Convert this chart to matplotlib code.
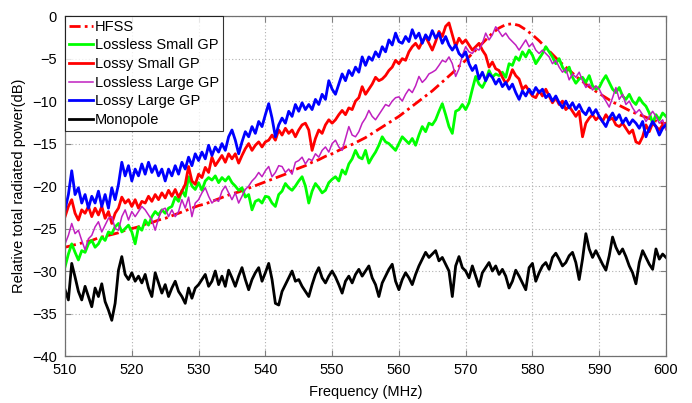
import numpy as np
import matplotlib
matplotlib.use("Agg")
import matplotlib.pyplot as plt

plt.rcParams['font.family'] = ['Liberation Sans', 'DejaVu Sans']

# measured traces sampled every 0.5 MHz from 510 to 600 MHz
freq = np.arange(510, 600.25, 0.5)

lossy_large = [
    -22.8, -21.0, -18.2, -21.0, -20.2, -22.0, -21.0, -22.6, -21.2, -22.0,
    -20.6, -22.4, -21.0, -22.6, -20.2, -21.6, -19.8, -17.2, -18.8, -17.6,
    -19.4, -18.0, -18.8, -17.4, -18.6, -17.2, -18.4, -17.6, -18.8, -18.0,
    -19.4, -18.0, -18.8, -17.6, -18.6, -17.2, -18.0, -16.6, -17.6, -16.2,
    -17.0, -16.0, -16.8, -15.2, -16.4, -15.4, -16.0, -15.0, -15.8, -14.2,
    -13.4, -14.6, -16.2, -14.8, -13.6, -14.2, -13.0, -13.8, -12.4, -13.0,
    -11.6, -10.3, -12.0, -14.2, -12.8, -12.0, -12.6, -11.2, -11.8, -10.4,
    -11.2, -10.2, -11.0, -10.4, -11.0, -9.8, -10.4, -9.2, -9.8, -7.6,
    -8.6, -9.2, -8.0, -6.8, -7.6, -6.4, -7.0, -6.0, -6.6, -4.8,
    -5.8, -4.8, -5.2, -4.2, -4.8, -3.6, -4.2, -2.8, -3.4, -2.0,
    -3.0, -3.2, -2.4, -3.0, -1.6, -2.6, -2.0, -3.2, -2.2, -2.8,
    -1.7, -2.6, -2.0, -3.2, -2.4, -3.4, -4.0, -3.4, -4.4, -4.8,
    -4.2, -5.6, -6.4, -5.8, -7.4, -6.6, -7.6, -6.8, -7.2, -8.0,
    -7.4, -8.3, -7.8, -8.6, -8.0, -9.0, -9.8, -8.8, -9.4, -8.6,
    -9.2, -8.4, -9.0, -8.6, -9.6, -9.2, -10.0, -9.4, -10.2, -10.8,
    -10.0, -10.8, -10.2, -11.0, -10.4, -11.2, -11.6, -10.8, -11.6, -11.0,
    -11.8, -12.4, -13.0, -12.0, -11.4, -12.2, -11.6, -12.6, -12.0, -12.8,
    -12.2, -12.6, -13.2, -12.4, -14.2, -13.2, -12.4, -13.0, -14.0, -13.2,
    -12.8]

lossy_small = [
    -23.6, -22.4, -21.6, -23.2, -24.0, -22.8, -23.2, -22.4, -23.6, -22.6,
    -23.4, -22.4, -23.8, -23.0, -24.4, -23.2, -22.6, -21.3, -22.0, -21.6,
    -22.4, -21.6, -22.6, -21.8, -22.0, -21.2, -21.8, -21.0, -21.6, -20.8,
    -21.4, -20.5, -21.2, -20.4, -21.3, -20.6, -19.8, -17.7, -19.4, -19.8,
    -18.6, -19.0, -17.8, -18.4, -16.6, -17.6, -17.0, -16.4, -17.2, -16.2,
    -16.8, -16.2, -17.3, -16.4, -15.6, -15.0, -15.8, -15.2, -14.8, -15.4,
    -14.8, -14.6, -14.0, -14.6, -13.4, -14.0, -13.2, -13.8, -13.4, -14.2,
    -13.4, -12.8, -12.6, -13.4, -15.8, -14.4, -13.4, -13.8, -12.8, -12.2,
    -12.6, -12.2, -11.6, -11.1, -11.6, -10.8, -11.0, -10.0, -9.6, -8.3,
    -9.2, -8.6, -8.0, -7.2, -7.6, -7.4, -7.0, -6.4, -6.0, -5.2,
    -5.6, -5.0, -5.2, -4.2, -3.6, -3.2, -3.8, -3.0, -2.4, -3.2,
    -4.0, -3.0, -1.8, -2.4, -1.2, -0.8, -2.2, -3.6, -2.6, -3.2,
    -2.8, -3.4, -4.0, -3.6, -3.2, -4.0, -4.6, -6.0, -5.4, -6.2,
    -6.4, -7.2, -7.9, -7.4, -6.3, -7.0, -7.4, -8.6, -8.2, -8.8,
    -9.4, -9.6, -8.8, -9.4, -8.6, -9.4, -10.2, -9.6, -10.4, -10.0,
    -11.0, -10.6, -11.2, -11.8, -11.2, -14.2, -12.6, -12.0, -11.6, -12.2,
    -11.8, -12.4, -11.6, -12.2, -12.0, -12.8, -13.0, -12.6, -13.2, -13.8,
    -13.4, -14.8, -15.0, -14.2, -12.8, -13.6, -12.6, -13.0, -13.4, -12.8,
    -12.6]

lossless_small = [
    -29.5, -28.0, -26.8, -27.8, -28.7, -27.6, -27.8, -26.8, -26.4, -27.2,
    -26.8, -26.0, -26.4, -25.4, -25.6, -24.8, -24.4, -25.4, -25.0, -24.6,
    -25.4, -26.8, -24.8, -25.2, -24.0, -24.6, -23.6, -23.0, -23.4, -22.8,
    -23.2, -22.6, -22.4, -21.3, -21.8, -20.5, -21.2, -18.9, -20.0, -20.4,
    -19.6, -20.5, -19.4, -19.0, -19.3, -18.8, -19.6, -19.0, -19.4, -18.9,
    -19.6, -20.0, -20.5, -20.2, -21.3, -21.0, -22.8, -21.8, -21.6, -22.0,
    -21.2, -21.3, -22.0, -22.4, -21.0, -20.6, -19.7, -20.2, -20.5, -20.0,
    -19.4, -18.9, -20.0, -22.0, -20.6, -19.7, -20.2, -20.8, -20.5, -19.6,
    -19.2, -18.9, -19.4, -18.1, -18.6, -17.4, -16.8, -15.8, -16.6, -16.8,
    -15.8, -17.3, -16.6, -16.0, -15.2, -14.2, -14.8, -15.0, -15.4, -15.8,
    -15.0, -14.2, -14.6, -15.0, -14.4, -15.2, -14.0, -13.0, -13.6, -12.6,
    -12.8, -12.2, -11.2, -10.3, -11.6, -13.0, -13.8, -11.2, -11.0, -10.4,
    -11.0, -10.2, -8.6, -7.1, -8.0, -8.4, -7.6, -6.4, -7.2, -6.8,
    -7.0, -6.6, -7.2, -5.6, -5.8, -4.8, -5.2, -4.2, -4.8, -4.0,
    -4.6, -5.6, -5.0, -4.4, -3.6, -4.2, -4.8, -5.6, -5.0, -6.0,
    -6.6, -6.0, -7.2, -7.9, -7.4, -7.2, -7.8, -7.0, -8.2, -8.6,
    -8.4, -7.6, -7.0, -7.8, -8.6, -9.0, -8.4, -9.4, -9.8, -9.2,
    -10.0, -10.4, -9.6, -10.2, -10.6, -11.4, -12.6, -11.6, -12.2, -11.4,
    -11.8]

lossless_large = [
    -26.8, -25.8, -24.4, -25.6, -25.2, -26.4, -27.5, -26.2, -25.8, -24.8,
    -24.2, -25.4, -24.6, -23.8, -23.6, -25.0, -25.2, -23.6, -22.8, -24.0,
    -23.0, -23.6, -23.0, -22.4, -22.8, -23.4, -24.0, -25.2, -23.8, -22.8,
    -22.6, -23.6, -22.8, -23.6, -23.0, -21.6, -22.6, -21.3, -23.6, -22.0,
    -21.6, -20.8, -20.2, -21.2, -22.0, -21.6, -21.8, -20.6, -20.0, -20.8,
    -21.6, -20.8, -22.0, -21.2, -20.4, -20.0, -19.4, -19.0, -18.4, -18.9,
    -18.2, -17.7, -18.9, -18.4, -17.6, -17.7, -18.4, -18.0, -18.6, -17.2,
    -17.0, -16.6, -17.4, -16.8, -17.0, -16.2, -16.6, -15.8, -15.4, -16.0,
    -15.0, -14.6, -15.4, -15.8, -14.4, -13.0, -14.0, -14.2, -13.6, -12.6,
    -12.0, -11.1, -11.8, -12.2, -11.6, -11.0, -10.4, -10.6, -10.0, -9.6,
    -9.5, -10.0, -9.2, -8.6, -9.0, -8.2, -7.1, -7.8, -7.4, -6.8,
    -6.6, -6.35, -5.8, -5.2, -5.4, -4.8, -5.6, -7.1, -6.2, -4.6,
    -3.6, -4.2, -4.4, -3.8, -4.0, -3.2, -2.0, -2.8, -2.2, -1.25,
    -1.8, -2.4, -2.0, -2.6, -3.0, -3.4, -4.0, -3.4, -2.8, -3.6,
    -3.2, -4.0, -4.4, -4.0, -4.4, -4.8, -5.6, -5.2, -6.0, -6.6,
    -6.2, -7.5, -6.8, -7.2, -6.6, -7.6, -8.4, -8.0, -8.7, -8.2,
    -8.6, -9.4, -10.0, -10.7, -9.6, -8.4, -9.8, -9.2, -10.4, -10.0,
    -10.8, -11.4, -11.0, -11.6, -12.4, -11.8, -11.2, -11.8, -12.6, -12.2,
    -13.4]

monopole = [
    -32.2, -33.4, -29.1, -30.7, -32.4, -33.4, -31.8, -33.0, -34.2, -32.0,
    -33.0, -31.5, -33.6, -34.6, -35.8, -33.8, -29.9, -28.3, -30.4, -31.0,
    -30.2, -31.2, -30.6, -31.4, -30.4, -32.0, -33.0, -30.2, -31.4, -32.6,
    -31.6, -33.0, -32.0, -31.2, -32.4, -33.0, -33.8, -32.0, -33.2, -32.0,
    -31.6, -31.0, -30.4, -31.8, -31.2, -30.0, -31.6, -30.6, -31.8, -29.9,
    -30.8, -31.8, -30.6, -29.6, -31.0, -32.2, -31.0, -30.2, -29.6, -31.2,
    -30.2, -29.1, -31.0, -33.8, -34.0, -32.4, -31.6, -30.8, -30.0, -31.2,
    -31.0, -31.8, -32.4, -33.0, -31.6, -30.4, -29.6, -30.8, -31.4, -30.6,
    -30.0, -30.7, -31.6, -32.6, -31.2, -30.6, -31.4, -30.4, -29.8, -30.6,
    -30.0, -29.4, -30.8, -31.6, -33.0, -31.4, -30.6, -29.8, -29.2, -31.2,
    -32.2, -31.0, -30.2, -30.8, -31.6, -30.4, -29.4, -28.6, -27.8, -28.4,
    -28.0, -27.6, -28.8, -28.4, -29.2, -30.0, -33.0, -29.4, -28.3, -29.6,
    -30.0, -30.8, -29.4, -30.6, -31.8, -30.2, -29.6, -29.0, -30.0, -29.4,
    -30.4, -29.8, -30.6, -32.0, -31.2, -29.9, -30.6, -31.4, -32.2, -29.6,
    -29.1, -31.2, -30.2, -29.4, -29.0, -29.8, -28.4, -27.9, -28.6, -29.4,
    -29.0, -28.2, -27.8, -29.0, -31.0, -28.6, -25.6, -27.4, -28.4, -27.6,
    -28.4, -29.2, -29.9, -28.2, -26.0, -27.2, -28.0, -27.4, -28.3, -29.4,
    -30.2, -31.5, -29.0, -27.6, -28.4, -29.2, -29.8, -27.4, -28.6, -28.0,
    -28.4]

# simulated (HFSS) curve, 1 MHz steps
hfss_freq = np.arange(510, 601, 1)
hfss = [
    -27.2, -27.0, -26.8, -26.6, -26.4, -26.1, -25.9, -25.7, -25.5, -25.2,
    -25.0, -24.8, -24.5, -24.3, -24.0, -23.8, -23.5, -23.2, -22.9, -22.6,
    -22.3, -22.1, -21.8, -21.5, -21.2, -20.9, -20.7, -20.4, -20.1, -19.8,
    -19.5, -19.2, -18.9, -18.6, -18.2, -17.9, -17.6, -17.2, -16.9, -16.5,
    -16.2, -15.8, -15.4, -15.1, -14.7, -14.3, -13.8, -13.3, -12.8, -12.3,
    -11.8, -11.2, -10.6, -10.0, -9.4, -8.8, -8.1, -7.4, -6.7, -5.9,
    -5.2, -4.4, -3.6, -2.8, -2.0, -1.4, -1.0, -0.9, -1.1, -1.6,
    -2.2, -2.9, -3.7, -4.5, -5.3, -6.0, -6.7, -7.4, -8.0, -8.6,
    -9.1, -9.6, -10.1, -10.5, -10.9, -11.3, -11.6, -11.9, -12.2, -12.5,
    -12.7]

fig = plt.figure(figsize=(6.92, 4.03), dpi=100)
ax = fig.add_axes([0.094, 0.1166, 0.8684, 0.8434])

ax.plot(hfss_freq, hfss, color='#ff0000', lw=2.0, ls=(0, (4, 1.5, 1, 1.5)), label='HFSS')
ax.plot(freq, lossless_small, color='#00ff00', lw=2.0, label='Lossless Small GP')
ax.plot(freq, lossy_small, color='#ff0000', lw=2.0, label='Lossy Small GP')
ax.plot(freq, lossless_large, color='#c020c0', lw=1.1, label='Lossless Large GP')
ax.plot(freq, lossy_large, color='#0000ff', lw=2.0, label='Lossy Large GP')
ax.plot(freq, monopole, color='black', lw=2.0, label='Monopole')

ax.set_xlim(510, 600)
ax.set_ylim(-40, 0)
ax.set_xticks(np.arange(510, 601, 10))
ax.set_yticks(np.arange(-40, 1, 5))
ax.grid(True, ls=(0, (1, 2)), color='#b0b0b0', lw=0.8)
ax.tick_params(direction='in', top=True, right=True, labelsize=10.5, length=4,
               color='#808080')
ax.tick_params(axis='x', pad=5)
ax.tick_params(axis='y', pad=6)
for s in ax.spines.values():
    s.set_color('#707070')
    s.set_linewidth(0.9)

ax.set_xlabel('Frequency (MHz)', fontsize=10.5, labelpad=6)
ax.set_ylabel('Relative total radiated power(dB)', fontsize=10.5, labelpad=4)

leg = ax.legend(loc='upper left', fontsize=10.5, frameon=True, fancybox=False,
                edgecolor='black', borderpad=0.25, labelspacing=0.32,
                handlelength=1.7, handletextpad=0.1, borderaxespad=0.0)
leg.get_frame().set_linewidth(0.8)

fig.savefig('out.png', dpi=100)
